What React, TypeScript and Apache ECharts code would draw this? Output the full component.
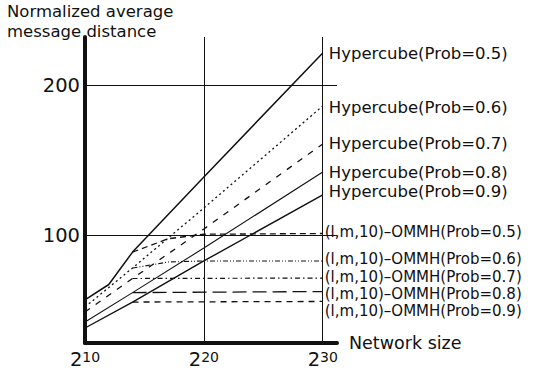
import React, { useEffect, useRef } from "react";
import * as echarts from "echarts";

const FONT = '"DejaVu Sans", "Liberation Sans", sans-serif';
const INK = "#111";

// x = log2(network size)
const xTicks = [10, 20, 30];
const yTicks = [100, 200];

const hyp05: [number, number][] = [[10, 56.7], [12, 67], [14, 88.6], [20, 138.7], [30, 221.3]];
const hyp06: [number, number][] = [[10, 52], [14, 78], [20, 118], [30, 186]];
const hyp07: [number, number][] = [[10, 48.7], [14, 71], [20, 104], [30, 160.7]];
const hyp08: [number, number][] = [[10, 42], [14, 61.6], [20, 91.3], [30, 142]];
const hyp09: [number, number][] = [[10, 38], [14, 55.3], [20, 82.7], [30, 126.7]];

const ommh05: [number, number][] = [[14, 88.6], [17, 97.5], [20, 100.5], [30, 101]];
const ommh06: [number, number][] = [[14, 78], [17, 82], [20, 82.7], [30, 82.7]];
const ommh07: [number, number][] = [[14, 71], [30, 71.3]];
const ommh08: [number, number][] = [[14, 61.6], [30, 62.3]];
const ommh09: [number, number][] = [[14, 55.3], [30, 55.7]];

const seriesNames = [
  "Hypercube(Prob=0.5)",
  "Hypercube(Prob=0.6)",
  "Hypercube(Prob=0.7)",
  "Hypercube(Prob=0.8)",
  "Hypercube(Prob=0.9)",
  "(l,m,10)\u2013OMMH(Prob=0.5)",
  "(l,m,10)\u2013OMMH(Prob=0.6)",
  "(l,m,10)\u2013OMMH(Prob=0.7)",
  "(l,m,10)\u2013OMMH(Prob=0.8)",
  "(l,m,10)\u2013OMMH(Prob=0.9)",
];
const seriesData = [hyp05, hyp06, hyp07, hyp08, hyp09, ommh05, ommh06, ommh07, ommh08, ommh09];

const styles: { dash: any; width: number; dy: number; dist: number; fs: number }[] = [
  { dash: "solid", width: 1.5, dy: 0, dist: 6, fs: 16.5 },
  { dash: [2, 3], width: 1.3, dy: 1, dist: 6, fs: 16.5 },
  { dash: [6, 7], width: 1.3, dy: 0, dist: 6, fs: 16.5 },
  { dash: "solid", width: 1.1, dy: 0, dist: 6, fs: 16.5 },
  { dash: "solid", width: 1.4, dy: -3, dist: 6, fs: 16.5 },
  { dash: [6, 4], width: 1.3, dy: -2, dist: 2, fs: 15 },
  { dash: [5, 2, 1, 2, 1, 2], width: 1.1, dy: -2, dist: 2, fs: 15 },
  { dash: [5, 3, 1.5, 3], width: 1.2, dy: -1.5, dist: 2, fs: 15 },
  { dash: [14, 6], width: 1.3, dy: 2.5, dist: 2, fs: 15 },
  { dash: [6, 5], width: 1.3, dy: 10, dist: 2, fs: 15 },
];

export default function App() {
  const ref = useRef<HTMLDivElement>(null);

  useEffect(() => {
    if (!ref.current) return;
    const chart = echarts.init(ref.current, null, { renderer: "svg" });

    const series: any[] = seriesData.map((data, i) => ({
      type: "line",
      name: seriesNames[i],
      data,
      showSymbol: false,
      symbol: "none",
      lineStyle: { color: INK, width: styles[i].width, type: styles[i].dash },
      endLabel: {
        show: true,
        formatter: (p: any) => p.seriesName,
        distance: styles[i].dist,
        offset: [0, styles[i].dy],
        fontFamily: FONT,
        fontSize: styles[i].fs,
        lineHeight: 15,
        color: INK,
      },
      z: 3,
    }));

    series.push({
      type: "line",
      data: [],
      silent: true,
      markLine: {
        silent: true,
        symbol: ["none", "none"],
        label: { show: false },
        lineStyle: { color: INK, width: 1, type: "solid" },
        data: [
          ...yTicks.map((v) => ({ yAxis: v })),
          ...xTicks.slice(1).map((v) => ({ xAxis: v })),
        ],
      },
      z: 2,
    });

    chart.setOption({
      animation: false,
      backgroundColor: "#fff",
      title: {
        text: "Normalized average\nmessage distance",
        left: 7,
        top: 2,
        padding: 0,
        textStyle: {
          fontFamily: FONT,
          fontSize: 16.5,
          lineHeight: 19.5,
          fontWeight: "normal",
          color: INK,
        },
      },
      grid: { left: 85, right: 218, top: 37, bottom: 37, containLabel: false },
      xAxis: {
        type: "value",
        min: 10,
        max: 31.2,
        interval: 10,
        axisLine: { show: true, onZero: false, lineStyle: { color: INK, width: 4 } },
        axisTick: { show: false },
        splitLine: { show: false },
        axisLabel: {
          customValues: xTicks,
          margin: 7,
          formatter: (v: number) => `{b|2}{s|${v}}`,
          rich: {
            b: { fontFamily: FONT, fontSize: 19.5, color: INK, verticalAlign: "bottom", lineHeight: 19 },
            s: { fontFamily: FONT, fontSize: 14, color: INK, verticalAlign: "top", lineHeight: 14, padding: [0, 0, 9, 0] },
          },
        },
        name: "Network size",
        nameLocation: "end",
        nameGap: 12,
        nameTextStyle: { fontFamily: FONT, fontSize: 17.5, color: INK, verticalAlign: "middle" },
      },
      yAxis: {
        type: "value",
        min: 28,
        max: 232,
        axisLine: { show: true, onZero: false, lineStyle: { color: INK, width: 4 } },
        axisTick: { show: false },
        splitLine: { show: false },
        axisLabel: {
          customValues: yTicks,
          margin: 5,
          fontFamily: FONT,
          fontSize: 19.5,
          color: INK,
        },
      },
      series,
    });

    return () => chart.dispose();
  }, []);

  return (
    <div
      ref={ref}
      style={{ position: "fixed", left: 0, top: 0, width: 555, height: 380 }}
    />
  );
}
